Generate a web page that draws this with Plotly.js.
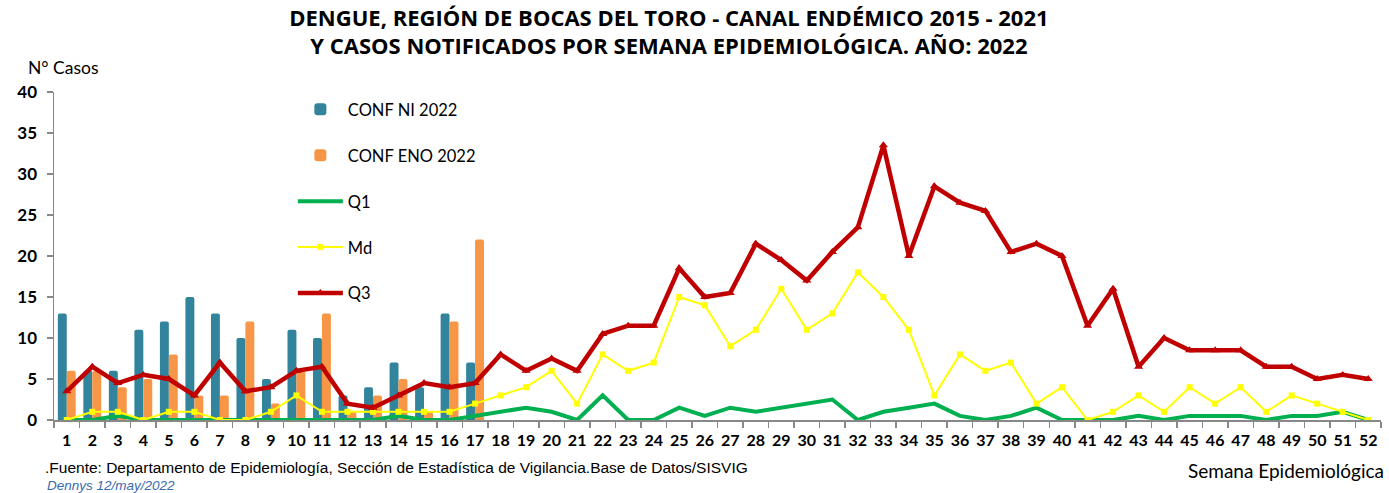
<!DOCTYPE html>
<html>
<head>
<meta charset="utf-8">
<script src="https://cdn.plot.ly/plotly-3.0.1.min.js"></script>
<style>html,body{margin:0;padding:0;background:#fff;}#chart{width:1389px;height:493px;}</style>
</head>
<body>
<div id="chart"></div>
<script>
const weeks = ["1","2","3","4","5","6","7","8","9","10","11","12","13","14","15","16","17","18","19","20","21","22","23","24","25","26","27","28","29","30","31","32","33","34","35","36","37","38","39","40","41","42","43","44","45","46","47","48","49","50","51","52"];
const barWeeks = weeks.slice(0, 17);
const confNI2022 = [13,6,6,11,12,15,13,10,5,11,10,3,4,7,4,13,7];
const confENO2022 = [6,6,4,5,8,3,3,12,2,6,13,1,3,5,1,12,22];
const q1 = [0,0,0.5,0,0,0,0,0,0,0,0,0,0,0.5,0,0,0.5,1,1.5,1,0,3,0,0,1.5,0.5,1.5,1,1.5,2,2.5,0,1,1.5,2,0.5,0,0.5,1.5,0,0,0,0.5,0,0.5,0.5,0.5,0,0.5,0.5,1,0];
const md = [0,1,1,0,1,1,0,0,1,3,1,1,1,1,1,1,2,3,4,6,2,8,6,7,15,14,9,11,16,11,13,18,15,11,3,8,6,7,2,4,0,1,3,1,4,2,4,1,3,2,1,0];
const q3 = [3.5,6.5,4.5,5.5,5,3,7,3.5,4,6,6.5,2,1.5,3,4.5,4,4.5,8,6,7.5,6,10.5,11.5,11.5,18.5,15,15.5,21.5,19.5,17,20.5,23.5,33.5,20,28.5,26.5,25.5,20.5,21.5,20,11.5,16,6.5,10,8.5,8.5,8.5,6.5,6.5,5,5.5,5];
const yTicks = [0,5,10,15,20,25,30,35,40];

const lato = "Lato, 'Open Sans', sans-serif";

const traces = [
  {type: "bar", name: "CONF NI 2022", x: barWeeks, y: confNI2022, legendgroup: "a",
   marker: {color: "#31849B", cornerradius: 2}},
  {type: "bar", name: "CONF ENO 2022", x: barWeeks, y: confENO2022, legendgroup: "b",
   marker: {color: "#F79646", cornerradius: 2}},
  {type: "scatter", mode: "lines+markers", name: "Q1", x: weeks, y: q1, legendgroup: "c",
   line: {color: "#00B050", width: 4}, marker: {symbol: "triangle-up", size: 4, color: "#00B050"}},
  {type: "scatter", mode: "lines+markers", name: "Md", x: weeks, y: md, legendgroup: "d",
   line: {color: "#FFFF00", width: 2}, marker: {symbol: "square", size: 6, color: "#FFFF00"}},
  {type: "scatter", mode: "lines+markers", name: "Q3", x: weeks, y: q3, legendgroup: "e",
   line: {color: "#C00000", width: 4.5}, marker: {symbol: "triangle-up", size: 8, color: "#C00000"}}
];

const layout = {
  width: 1389, height: 493,
  margin: {l: 54, r: 8, t: 92, b: 73},
  paper_bgcolor: "#fff", plot_bgcolor: "#fff",
  barmode: "group", bargap: 0.3, bargroupgap: 0,
  showlegend: true,
  title: {
    text: "<b>DENGUE, REGIÓN DE BOCAS DEL TORO - CANAL ENDÉMICO 2015 - 2021<br>Y CASOS NOTIFICADOS POR SEMANA EPIDEMIOLÓGICA. AÑO: 2022</b>",
    x: 0.4816, xanchor: "center", xref: "container",
    y: 0.948, yanchor: "top", yref: "container",
    font: {family: "'Open Sans', Lato, sans-serif", size: 22, color: "#000"}
  },
  legend: {
    x: 0.180, xanchor: "left", y: 1.0, yanchor: "top",
    traceorder: "grouped", tracegroupgap: 21.5, itemwidth: 45,
    font: {family: lato, size: 16.5, color: "#000"},
    bgcolor: "rgba(0,0,0,0)"
  },
  xaxis: {
    type: "category", categoryorder: "array", categoryarray: weeks,
    range: [-0.5, 51.5],
    showline: true, linecolor: "#888", linewidth: 1.5,
    ticks: "outside", tickson: "boundaries", ticklen: 6, tickcolor: "#888", tickwidth: 1.5,
    tickfont: {family: lato, size: 16, color: "#000", weight: "bold"},
    tickangle: 0, showgrid: false, zeroline: false,
    ticklabelstandoff: 5
  },
  yaxis: {
    range: [0, 40], tickvals: yTicks,
    showline: true, linecolor: "#888", linewidth: 1.5,
    ticks: "outside", ticklen: 6, tickcolor: "#888", tickwidth: 1.5,
    tickfont: {family: lato, size: 17, color: "#000", weight: "bold"},
    showgrid: false, zeroline: false,
    ticklabelstandoff: 6
  },
  annotations: [
    {text: "N° Casos", xref: "paper", yref: "paper", x: (26 - 54) / 1327, y: (420 - 67) / 328,
     xanchor: "left", yanchor: "middle", showarrow: false,
     font: {family: lato, size: 17.5, color: "#000"}},
    {text: "Semana Epidemiológica", xref: "paper", yref: "paper", x: (1386 - 54) / 1327, y: (420 - 470) / 328,
     xanchor: "right", yanchor: "middle", showarrow: false,
     font: {family: lato, size: 19, color: "#000"}},
    {text: ".Fuente: Departamento de Epidemiología, Sección de Estadística de Vigilancia.Base de Datos/SISVIG", xref: "paper", yref: "paper",
     x: (44 - 54) / 1327, y: (420 - 467) / 328,
     xanchor: "left", yanchor: "middle", showarrow: false, borderpad: 0,
     font: {family: "'Liberation Sans', Arial, sans-serif", size: 15.5, color: "#000"}},
    {text: "<i>Dennys 12/may/2022</i>", xref: "paper", yref: "paper",
     x: (46 - 54) / 1327, y: (420 - 485) / 328,
     xanchor: "left", yanchor: "middle", showarrow: false, borderpad: 0,
     font: {family: "'Liberation Sans', Arial, sans-serif", size: 13.5, color: "#3B6AAE"}}
  ]
};

Plotly.newPlot("chart", traces, layout, {displayModeBar: false, staticPlot: true});
</script>
</body>
</html>
